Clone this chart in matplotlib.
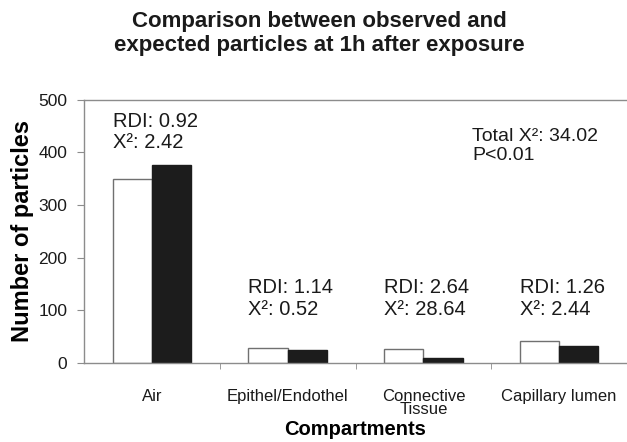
import matplotlib
matplotlib.use("Agg")
import matplotlib.pyplot as plt
import numpy as np

plt.rcParams["font.family"] = ["Liberation Sans", "DejaVu Sans"]

categories = ["Air", "Epithel/Endothel", "Connective\nTissue", "Capillary lumen"]
observed = [349, 28, 26, 42]
expected = [377, 25, 10, 33]
rdi = ["0.92", "1.14", "2.64", "1.26"]
chi2 = ["2.42", "0.52", "28.64", "2.44"]
# y position (data units) of the annotation bottom for each category
note_y = [400, 84, 84, 84]

AXIS_GRAY = "#8c8c8c"

fig = plt.figure(figsize=(6.27, 4.42), dpi=100)
ax = fig.add_axes([0.134, 0.179, 0.866, 0.595])

x = np.arange(len(categories))
width = 0.29
ax.bar(x - width / 2, observed, width, color="white", edgecolor="#707070", linewidth=1.0)
ax.bar(x + width / 2, expected, width, color="#1c1c1c", edgecolor="#1c1c1c", linewidth=1.0)

for xi, r, c, yy in zip(x, rdi, chi2, note_y):
    ax.text(xi - width, yy, f"RDI: {r}\nX\u00b2: {c}", ha="left", va="bottom",
            fontsize=14.5, color="#1a1a1a", linespacing=1.15)

ax.text(0.715, 0.755, "Total X\u00b2: 34.02\nP<0.01", transform=ax.transAxes,
        ha="left", va="bottom", fontsize=14, color="#1a1a1a", linespacing=1.15)

ax.set_xlim(-0.5, len(categories) - 0.5)
ax.set_ylim(0, 500)
ax.set_yticks(np.arange(0, 501, 100))
ax.set_xticks(x)
ax.set_xticklabels(categories, fontsize=12, color="#1a1a1a", linespacing=0.85)
ax.set_xticks(np.arange(0.5, len(categories) - 0.5, 1), minor=True)
ax.tick_params(axis="x", which="major", length=0, pad=19)
ax.tick_params(axis="x", which="minor", length=4, color=AXIS_GRAY, direction="out")
ax.tick_params(axis="y", labelsize=12.5, labelcolor="#1a1a1a", color=AXIS_GRAY,
               length=5, pad=7)

ax.spines["right"].set_visible(False)
for side in ["left", "bottom", "top"]:
    ax.spines[side].set_color(AXIS_GRAY)
    ax.spines[side].set_linewidth(1.0)

ax.set_ylabel("Number of particles", fontsize=17, fontweight="bold", labelpad=3)
ax.set_xlabel("Compartments", fontsize=14.5, fontweight="bold", labelpad=2)

fig.text(0.51, 0.975, "Comparison between observed and\nexpected particles at 1h after exposure",
         ha="center", va="top", fontsize=16, fontweight="bold", color="#1a1a1a", linespacing=1.2)

fig.savefig("out.png", dpi=100)
